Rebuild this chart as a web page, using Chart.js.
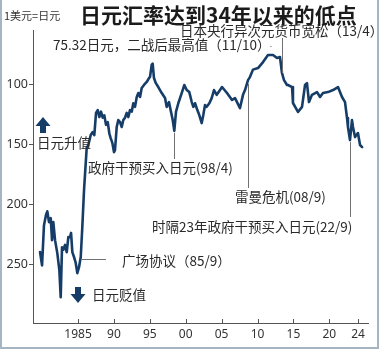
<!DOCTYPE html>
<html><head><meta charset="utf-8">
<script src="https://cdn.jsdelivr.net/npm/chart.js@4.4.1/dist/chart.umd.min.js"></script>
<style>
html,body{margin:0;padding:0;background:#fff;}
#wrap{position:relative;width:379px;height:349px;overflow:hidden;}
#c{position:absolute;left:0;top:0;}
#frame{position:absolute;left:0;top:0;width:379px;height:349px;box-sizing:border-box;border-left:2px solid #a7b4c2;border-right:2px solid #a7b4c2;border-bottom:2px solid #a7b4c2;pointer-events:none;}
</style></head><body>
<div id="wrap"><canvas id="c" width="379" height="349"></canvas><div id="frame"></div></div>
<script>
// ---- data (yen per 1 USD) ----
const years = [1979.71,1979.99,1980.26,1980.54,1980.72,1980.96,1981.20,1981.38,1981.56,1981.80,
1982.12,1982.40,1982.59,1982.77,1982.95,1983.19,1983.43,1983.65,1983.89,1984.03,
1984.21,1984.44,1984.68,1984.90,1985.14,1985.38,1985.60,1985.84,1986.21,1986.43,
1986.77,1987.05,1987.27,1987.51,1987.74,1987.97,1988.20,1988.44,1988.66,1988.90,
1989.14,1989.36,1989.55,1989.78,1990.01,1990.15,1990.39,1990.61,1990.85,1991.09,
1991.31,1991.55,1991.78,1992.01,1992.24,1992.48,1992.70,1992.94,1993.18,1993.40,
1993.64,1993.87,1994.19,1994.57,1994.89,1995.03,1995.26,1995.40,1995.58,1995.82,
1996.18,1996.66,1997.12,1997.35,1997.67,1997.95,1998.19,1998.41,1998.65,1998.97,
1999.44,1999.81,2000.14,2000.50,2000.84,2001.06,2001.30,2001.62,2001.89,2002.23,
2002.45,2002.69,2002.92,2003.29,2003.62,2003.94,2004.32,2004.78,2005.06,2005.75,
2006.45,2006.87,2007.56,2007.98,2008.26,2008.68,2008.96,2009.37,2010.07,2010.77,
2011.46,2012.16,2012.72,2013.13,2013.41,2013.69,2014.11,2014.25,2014.81,2014.94,
2015.50,2015.64,2016.20,2016.62,2016.89,2017.17,2017.59,2018.29,2018.71,2019.12,
2019.82,2020.52,2021.21,2021.77,2022.19,2022.47,2022.60,2022.88,2023.16,2023.30,
2023.58,2023.99,2024.28,2024.57];
const rates = [240,251,217.5,209,206,215,211.7,230,215,230,
241,255,277.5,236,238,234,240,227.5,227.5,224,
240,244,249,257.5,252.5,244,219,188,153,151,
142.5,140,142.5,124,121.7,127.5,123,128,126,134,
131.7,141,145,149,156.7,155,135.8,130,131.7,135.8,
130,128,124,127.5,121.7,123,116,119,110.8,107.5,
110.8,103.3,100.8,98.3,95,94,84,83,95,99,
102.5,107.5,111.7,119,115,123,130,139,123,116,
107.5,100.8,105,106.7,115,119,116,121.7,125.8,132.5,
125.8,117.5,119,116,111.7,105,109,105,102.5,107.5,
113.3,111.7,120,109,105,96.7,94,88,86.7,81.7,
75.8,75.8,78.3,77.5,90.8,96.7,100.8,100.8,102.5,115.8,
121.7,123.3,119,100.8,99.2,115,109,106.7,110.8,107.5,
106.7,105,102.5,110.8,115,128.3,135.8,146.7,130,135.8,
144.2,140.8,150.8,152.5];
const yTickValues = [100,150,200,250];
const xTickYears = [1985,1990,1995,2000,2005,2010,2015,2020,2024];
const xTickLabels = ['1985','90','95','00','05','10','15','20','24'];

const titleText = '日元汇率达到34年以来的低点';
const unitText = '1美元=日元';

// events: [year, value at that point]
const evPeak = [2011.8, 75.32];
const evBoj = [2013.41, 90.8];
const evIntervention98 = [1998.41, 139];
const evLehman = [2008.68, 96.7];
const evIntervention22 = [2022.88, 146.7];
const evPlaza = [1985.55, 246];

const CJK = '"Noto Sans CJK SC","Noto Sans",sans-serif';
const NAVY = '#163d68';

function upArrow(ctx, cx, top, bottom, dir){
  // dir: 1 = pointing up, -1 = pointing down
  const hw = 7.5, sw = 3, headLen = 9;
  ctx.beginPath();
  if(dir===1){
    ctx.moveTo(cx, top); ctx.lineTo(cx+hw, top+headLen); ctx.lineTo(cx+sw, top+headLen);
    ctx.lineTo(cx+sw, bottom); ctx.lineTo(cx-sw, bottom); ctx.lineTo(cx-sw, top+headLen);
    ctx.lineTo(cx-hw, top+headLen);
  } else {
    ctx.moveTo(cx, bottom); ctx.lineTo(cx+hw, bottom-headLen); ctx.lineTo(cx+sw, bottom-headLen);
    ctx.lineTo(cx+sw, top); ctx.lineTo(cx-sw, top); ctx.lineTo(cx-sw, bottom-headLen);
    ctx.lineTo(cx-hw, bottom-headLen);
  }
  ctx.closePath(); ctx.fillStyle = NAVY; ctx.fill();
}

const annot = {
  id:'annot',
  afterDraw(chart){
    const ctx = chart.ctx, xs = chart.scales.x, ys = chart.scales.y;
    const X = v=>xs.getPixelForValue(v), Y = v=>ys.getPixelForValue(v);
    ctx.save();
    // title
    ctx.fillStyle = '#1b1b1b';
    ctx.textBaseline = 'middle';
    ctx.textAlign = 'left';
    ctx.font = 'bold 21px ' + CJK;
    ctx.fillText(titleText, 80, 15);
    ctx.font = '11px ' + CJK;
    ctx.fillStyle = '#333';
    ctx.fillText(unitText, 4, 16);

    // leader lines
    ctx.strokeStyle = '#707070'; ctx.lineWidth = 1;
    const vline = (x, y1, y2)=>{ ctx.beginPath(); ctx.moveTo(Math.round(x)+0.5, y1); ctx.lineTo(Math.round(x)+0.5, y2); ctx.stroke(); };
    vline(X(evIntervention98[0]), Y(evIntervention98[1])+2, 159);
    vline(X(evLehman[0]), Y(evLehman[1])+4, 188);
    vline(X(evIntervention22[0]), Y(evIntervention22[1])+2, 217);
    vline(X(evBoj[0]), 38, Y(evBoj[1]));
    // plaza horizontal
    const py = Math.round(Y(evPlaza[1]))+0.5, px = X(evPlaza[0]);
    ctx.beginPath(); ctx.moveTo(px, py); ctx.lineTo(px+24, py); ctx.stroke();

    // texts
    ctx.font = '13.5px ' + CJK;
    ctx.fillStyle = '#2a2a2a';
    ctx.textBaseline = 'middle';
    const t1 = '75.32日元，二战后最高值（11/10）';
    ctx.fillText(t1, 53, 45);
    const t1w = ctx.measureText(t1).width;
    ctx.beginPath(); ctx.moveTo(53+t1w+1, 46.5); ctx.lineTo(X(evPeak[0]), 46.5); ctx.stroke();
    ctx.fillText('日本央行异次元货币宽松（13/4）', 180, 31);
    ctx.fillText('政府干预买入日元(98/4)', 88, 168);
    ctx.fillText('雷曼危机(08/9)', 235, 197);
    ctx.fillText('时隔23年政府干预买入日元(22/9)', 152, 227);
    ctx.fillText('广场协议（85/9）', 122, 261);
    ctx.fillText('日元升值', 37, 143);
    ctx.fillText('日元贬值', 92, 295);

    upArrow(ctx, 43, 117, 133, 1);
    upArrow(ctx, 78, 287, 303, -1);
    ctx.restore();
  }
};

new Chart(document.getElementById('c'), {
  type:'line',
  data:{ datasets:[{
    data: years.map((y,i)=>({x:y, y:rates[i]})),
    borderColor: NAVY, borderWidth: 2.6, pointRadius:0, tension:0, fill:false,
    borderJoinStyle:'round', borderCapStyle:'round'
  }]},
  options:{
    responsive:false, devicePixelRatio:1, animation:false,
    layout:{padding:{top:30,right:11,left:0,bottom:0}},
    plugins:{legend:{display:false}, tooltip:{enabled:false}},
    scales:{
      x:{type:'linear', min:1978.73, max:2025.39,
        afterFit(s){ s.height = 26; },
        afterBuildTicks(s){ s.ticks = xTickYears.map(v=>({value:v})); },
        ticks:{ autoSkip:false, maxRotation:0, padding:4, color:'#333',
          font:{family:'"Noto Sans",sans-serif', size:12},
          callback:(v)=>{ const i = xTickYears.indexOf(v); return i>=0 ? xTickLabels[i] : ''; } },
        grid:{display:true, drawOnChartArea:false, drawTicks:false},
        border:{display:true, color:'#555', width:1}
      },
      y:{type:'linear', reverse:true, min:55, max:299,
        afterFit(s){ s.width = 33; },
        afterBuildTicks(s){ s.ticks = yTickValues.map(v=>({value:v})); },
        ticks:{ padding:1, color:'#333', font:{family:'"Noto Sans",sans-serif', size:12.5} },
        grid:{drawOnChartArea:false, drawTicks:true, tickLength:4, color:'#555'},
        border:{display:true, color:'#555', width:1}
      }
    }
  },
  plugins:[annot, {
    id:'xticksUp',
    afterDraw(chart){
      const ctx = chart.ctx, xs = chart.scales.x, bottom = chart.chartArea.bottom;
      ctx.save(); ctx.strokeStyle = '#555'; ctx.lineWidth = 1;
      xTickYears.forEach(v=>{ const x = Math.round(xs.getPixelForValue(v))+0.5;
        ctx.beginPath(); ctx.moveTo(x, bottom-4); ctx.lineTo(x, bottom); ctx.stroke(); });
      ctx.restore();
    }
  }]
});
</script>
</body></html>
